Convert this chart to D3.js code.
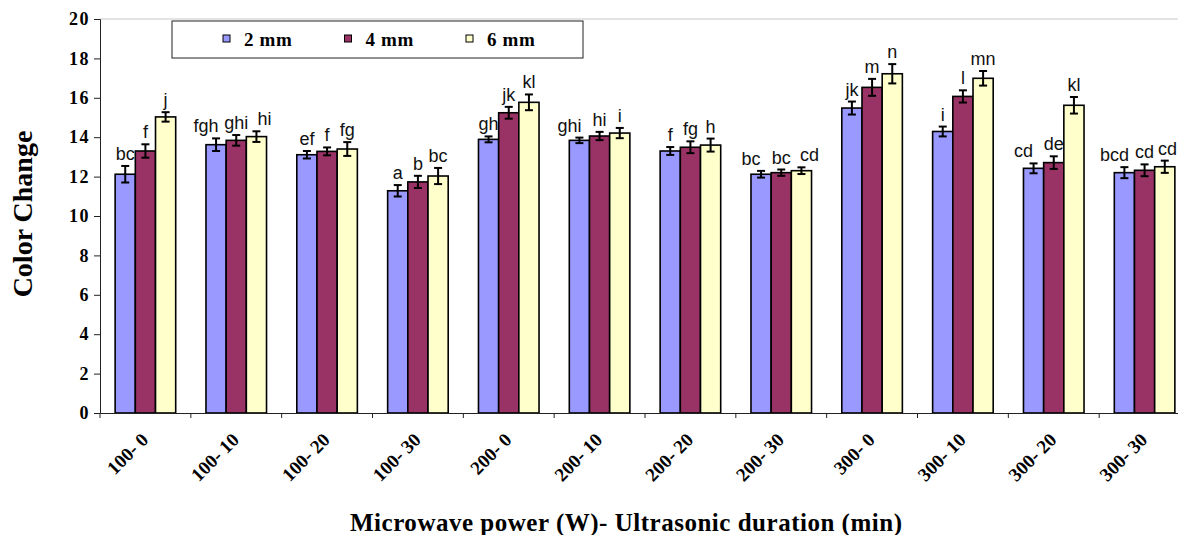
<!DOCTYPE html>
<html>
<head>
<meta charset="utf-8">
<script src="https://cdn.jsdelivr.net/npm/d3@7"></script>
<style>
  body { margin: 0; background: #fff; }
  svg { display: block; }
</style>
</head>
<body>
<svg class="chart" width="1178" height="535"></svg>
<script>
// treatments (microwave power - ultrasonic duration)
const categories = ["100- 0", "100- 10", "100- 20", "100- 30", "200- 0", "200- 10",
  "200- 20", "200- 30", "300- 0", "300- 10", "300- 20", "300- 30"];
const seriesNames = ["2 mm", "4 mm", "6 mm"];

const mm2 = [12.12, 13.62, 13.11, 11.28, 13.89, 13.84, 13.30, 12.12, 15.48, 14.29, 12.42, 12.20];
const mm4 = [13.30, 13.84, 13.28, 11.73, 15.24, 14.06, 13.49, 12.20, 16.53, 16.07, 12.71, 12.32];
const mm6 = [15.03, 14.03, 13.40, 12.03, 15.77, 14.21, 13.60, 12.30, 17.22, 16.99, 15.62, 12.50];

const err2 = [0.42, 0.32, 0.19, 0.29, 0.15, 0.14, 0.20, 0.17, 0.33, 0.25, 0.25, 0.28];
const err4 = [0.34, 0.27, 0.20, 0.31, 0.30, 0.21, 0.30, 0.16, 0.43, 0.31, 0.32, 0.30];
const err6 = [0.24, 0.27, 0.35, 0.41, 0.40, 0.26, 0.33, 0.17, 0.49, 0.37, 0.42, 0.31];

const letters2 = ["bc", "fgh", "ef", "a", "gh", "ghi", "f", "bc", "jk", "i", "cd", "bcd"];
const letters4 = ["f", "ghi", "f", "b", "jk", "hi", "fg", "bc", "m", "l", "de", "cd"];
const letters6 = ["j", "hi", "fg", "bc", "kl", "i", "h", "cd", "n", "mn", "kl", "cd"];

const yTicks = [0, 2, 4, 6, 8, 10, 12, 14, 16, 18, 20];

const colors = ["#9999ff", "#993366", "#ffffcc"];
const serif = "'Liberation Serif', 'Times New Roman', serif";

const values = [mm2, mm4, mm6];
const errs = [err2, err4, err6];
const letters = [letters2, letters4, letters6];

const W = 1178;
const svg = d3.select(".chart");

const x = d3.scaleBand()
  .domain(categories)
  .range([100, 1190])
  .paddingInner(1 / 3)
  .paddingOuter(1 / 6);

const xs = d3.scaleBand()
  .domain(seriesNames)
  .range([0, x.bandwidth()]);

const y = d3.scaleLinear()
  .domain([0, 20])
  .range([413, 19]);

// faint frame line on top
svg.append("line")
  .attr("x1", 100).attr("x2", 1190)
  .attr("y1", y(20)).attr("y2", y(20))
  .attr("stroke", "#c8c8c8");

// y axis
const yAxis = svg.append("g")
  .attr("transform", "translate(100,0)")
  .call(d3.axisLeft(y).tickValues(yTicks).tickSize(6).tickPadding(4));
yAxis.select(".domain").attr("stroke", "#222");
yAxis.selectAll(".tick line").attr("stroke", "#222");
yAxis.selectAll("text")
  .attr("font-family", serif)
  .attr("font-weight", "bold")
  .attr("font-size", 18)
  .attr("letter-spacing", 1.5)
  .attr("fill", "#000");

// bars
const rows = [];
categories.forEach((c, i) => {
  seriesNames.forEach((s, j) => {
    rows.push({ cat: c, s: s, j: j, v: values[j][i], e: errs[j][i], lab: letters[j][i], gi: i });
  });
});

const bars = svg.append("g");
bars.selectAll("rect")
  .data(rows)
  .join("rect")
  .attr("x", d => x(d.cat) + xs(d.s))
  .attr("y", d => y(d.v))
  .attr("width", xs.bandwidth())
  .attr("height", d => y(0) - y(d.v))
  .attr("fill", d => colors[d.j])
  .attr("stroke", "#000")
  .attr("stroke-width", 1.6);

// error bars
const eb = svg.append("g").attr("stroke", "#000").attr("stroke-width", 2);
rows.forEach(d => {
  const cx = x(d.cat) + xs(d.s) + xs.bandwidth() / 2;
  eb.append("line").attr("x1", cx).attr("x2", cx).attr("y1", y(d.v + d.e)).attr("y2", y(d.v - d.e));
  eb.append("line").attr("x1", cx - 4).attr("x2", cx + 4).attr("y1", y(d.v + d.e)).attr("y2", y(d.v + d.e));
  eb.append("line").attr("x1", cx - 4).attr("x2", cx + 4).attr("y1", y(d.v - d.e)).attr("y2", y(d.v - d.e));
});

// x axis
const xAxis = svg.append("g")
  .attr("transform", `translate(0,${y(0)})`)
  .call(d3.axisBottom(x).tickSize(0).tickFormat(""));
xAxis.select(".domain").attr("stroke", "#222");
xAxis.selectAll(".tick").remove();
// tick marks sit between groups
const step = x.step();
d3.range(categories.length + 1).forEach(k => {
  const tx = 100 + k * step;
  xAxis.append("line").attr("x1", tx).attr("x2", tx).attr("y1", 0).attr("y2", 5).attr("stroke", "#222");
});

svg.append("g")
  .selectAll("text")
  .data(categories)
  .join("text")
  .attr("transform", d => `translate(${x(d) + x.bandwidth() / 2 + 4},${y(0) + 28}) rotate(-45)`)
  .attr("text-anchor", "end")
  .attr("font-family", serif)
  .attr("font-weight", "bold")
  .attr("font-size", 19)
  .text(d => d);

// letter labels above error bars
const labG = svg.append("g")
  .attr("font-family", "'Liberation Sans', Arial, sans-serif")
  .attr("font-size", 18)
  .attr("fill", "#111")
  .attr("text-anchor", "middle");
const labs = labG.selectAll("text")
  .data(rows)
  .join("text")
  .attr("x", d => x(d.cat) + xs(d.s) + xs.bandwidth() / 2)
  .attr("y", d => y(d.v + d.e) - 6)
  .text(d => d.lab);

// nudge outer labels away when they run into the middle one
labs.each(function (d) { d.w = this.getComputedTextLength(); d.cx = +this.getAttribute("x"); d.by = +this.getAttribute("y"); });
categories.forEach((c, i) => {
  const g = rows.filter(r => r.gi === i);
  const mid = g[1];
  [0, 2].forEach(k => {
    const o = g[k];
    const gap = k === 0 ? (mid.cx - mid.w / 2) - (o.cx + o.w / 2) : (o.cx - o.w / 2) - (mid.cx + mid.w / 2);
    if (gap < 3 && Math.abs(o.by - mid.by) < 16) o.cx += k === 0 ? -10 : 8;
    o.cx = Math.min(o.cx, W - 1 - o.w / 2);
  });
});
labs.attr("x", d => d.cx);

// legend
const leg = svg.append("g");
leg.append("rect")
  .attr("x", 172).attr("y", 21).attr("width", 411).attr("height", 37)
  .attr("fill", "#fff").attr("stroke", "#222");
seriesNames.forEach((s, j) => {
  const lx = 223 + j * 121.5;
  leg.append("rect")
    .attr("x", lx).attr("y", 35).attr("width", 7).attr("height", 7)
    .attr("fill", colors[j]).attr("stroke", "#000");
  leg.append("text")
    .attr("x", lx + 21).attr("y", 46)
    .attr("font-family", serif).attr("font-weight", "bold").attr("font-size", 19)
    .attr("letter-spacing", 0.6)
    .text(s);
});

// axis titles
svg.append("text")
  .attr("transform", "translate(32,214) rotate(-90)")
  .attr("text-anchor", "middle")
  .attr("font-family", serif).attr("font-weight", "bold").attr("font-size", 28)
  .text("Color Change");

svg.append("text")
  .attr("x", 350).attr("y", 531)
  .attr("textLength", 552)
  .attr("font-family", serif).attr("font-weight", "bold").attr("font-size", 25)
  .text("Microwave power (W)- Ultrasonic duration (min)");
</script>
</body>
</html>
